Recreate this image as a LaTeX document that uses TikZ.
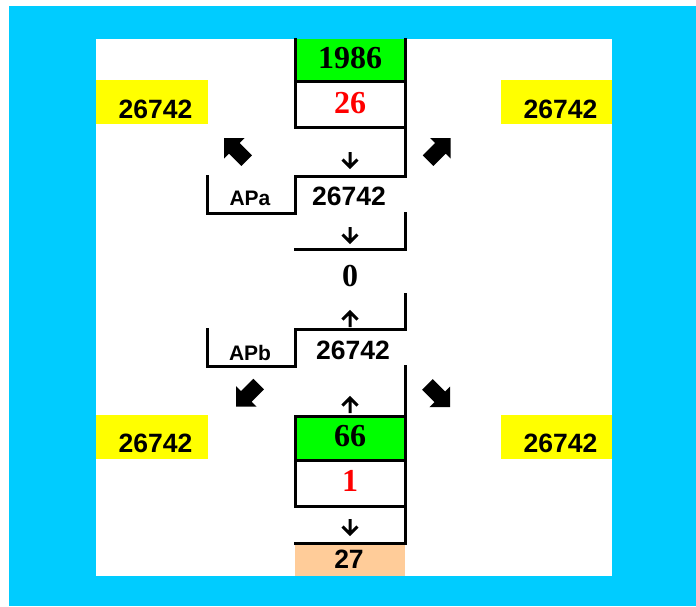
\documentclass[tikz,border=0pt]{standalone}
\usepackage{fontspec}
\setmainfont{Liberation Serif}
\setsansfont{Liberation Sans}
\usetikzlibrary{positioning}
\definecolor{frameblue}{HTML}{00CCFF}
\definecolor{cellgreen}{HTML}{00FF00}
\definecolor{cellyellow}{HTML}{FFFF00}
\definecolor{cellorange}{HTML}{FFCC99}
\definecolor{numred}{HTML}{FF0000}

\begin{document}
\begin{tikzpicture}[
    x=1pt, y=-1pt,
    grid/.style={line width=3pt, line cap=rect},
    num/.style={inner sep=0pt, anchor=base, font=\sffamily\bfseries\fontsize{26.5}{26.5}\selectfont},
    big/.style={inner sep=0pt, anchor=base, font=\rmfamily\bfseries\fontsize{32}{32}\selectfont, text=#1},
    tag/.style={inner sep=0pt, anchor=base, font=\sffamily\bfseries\fontsize{21}{21}\selectfont},
    tickdown/.pic={\draw[line width=3pt] (0,-8) -- (0,6.5) (-7.5,-0.5) -- (0,7) -- (7.5,-0.5);},
    blockarrow/.pic={\fill (0,0) -- (-14.5,14.5) -- (-14.5,7.5) -- (-32,7.5) -- (-32,-7.5) -- (-14.5,-7.5) -- (-14.5,-14.5) -- cycle;}
]
\useasboundingbox (0,0) rectangle (696,606);
\fill[frameblue] (9,6) rectangle (696,606);
\fill[white] (96,39) rectangle (612,576);

% coloured cells
\fill[cellgreen] (295,39) rectangle (405,81);
\fill[cellgreen] (295,416) rectangle (405,460);
\fill[cellorange] (295,543) rectangle (405,576);
\fill[cellyellow] (96,80) rectangle (208,124);
\fill[cellyellow] (501,80) rectangle (612,124);
\fill[cellyellow] (96,415) rectangle (208,459);
\fill[cellyellow] (501,415) rectangle (612,459);

% cell borders
\draw[grid] (295,39) -- (295,127) (405,39) -- (405,176);
\draw[grid] (295,81) -- (405,81) (295,127) -- (405,127) (295,176) -- (405,176);
\draw[grid] (207,176) -- (207,213) -- (295,213) -- (295,176);
\draw[grid] (405,213) -- (405,249) -- (295,249);
\draw[grid] (405,294) -- (405,329) -- (295,329);
\draw[grid] (207,329) -- (207,366) -- (295,366) -- (295,329);
\draw[grid] (405,366) -- (405,543) -- (295,543);
\draw[grid] (295,416) rectangle (405,506) (295,460) -- (405,460);

% values
\node[big=black] (top) at (350,68.3) {1986};
\node[big=numred] (topdiv) at (350,113.3) {26};
\node[num] (ynw) at (155.5,118.3) {26742};
\node[num] (yne) at (560.5,118.3) {26742};
\node[num] (ysw) at (155.5,452.7) {26742};
\node[num] (yse) at (560.5,452.7) {26742};
\node[tag] (apa) at (250,205) {APa};
\node[num] (vala) at (349,205) {26742};
\node[big=black] (zero) at (350,286) {0};
\node[tag] (apb) at (250,360) {APb};
\node[num] (valb) at (353,359.3) {26742};
\node[big=black] (bot) at (350,446.7) {66};
\node[big=numred] (botdiv) at (350,491.7) {1};
\node[num] (res) at (349,568.3) {27};

% small arrows
\pic at (350,160) {tickdown};
\pic at (350,235) {tickdown};
\pic[rotate=180] at (350,319) {tickdown};
\pic[rotate=180] at (350,405) {tickdown};
\pic at (350,527) {tickdown};

% block arrows
\pic[rotate=135] at (224,138) {blockarrow};
\pic[rotate=45] at (450.7,138) {blockarrow};
\pic[rotate=225] at (236,406.7) {blockarrow};
\pic[rotate=315] at (450,407) {blockarrow};
\end{tikzpicture}
\end{document}
